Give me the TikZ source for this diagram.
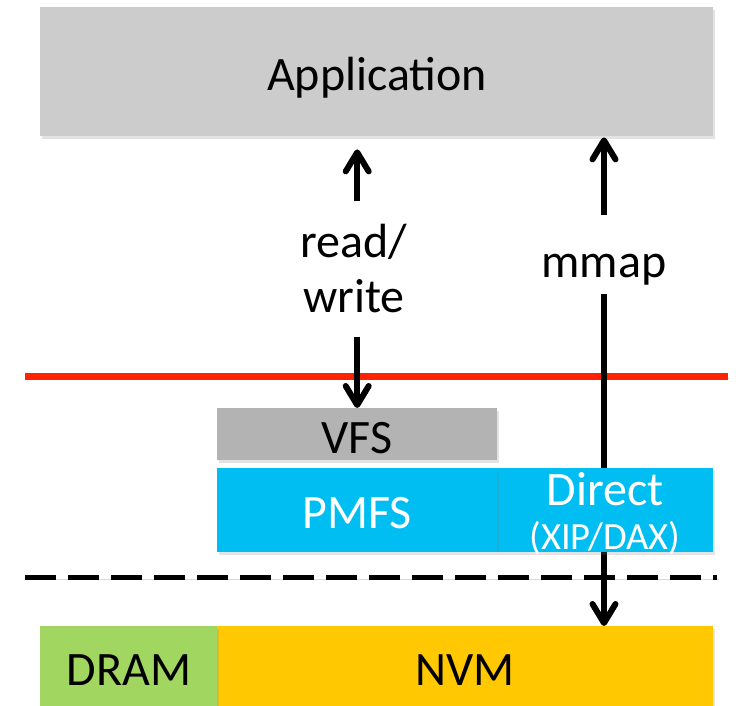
\documentclass[tikz,border=0pt]{standalone}
\usepackage{fontspec}
\setmainfont{Carlito}
\usetikzlibrary{arrows.meta,shadows}
\pgfdeclarelayer{back}
\pgfsetlayers{back,main}
\definecolor{appgray}{HTML}{CCCCCC}
\definecolor{vfsgray}{HTML}{B3B3B3}
\definecolor{pmcyan}{HTML}{00BEF2}
\definecolor{dramgreen}{HTML}{A1D661}
\definecolor{nvmgold}{HTML}{FFC800}
\definecolor{kernred}{HTML}{FF2200}
\tikzset{
  layer/.style={draw=none, inner sep=0pt, anchor=north west,
    drop shadow={shadow xshift=1.5pt, shadow yshift=-2.5pt, opacity=0.22}},
  lbl/.style={anchor=base, inner sep=0pt, font=\fontsize{48}{58}\selectfont},
  smalllbl/.style={anchor=base, inner sep=0pt, font=\fontsize{38.5}{46}\selectfont},
  flow/.style={line width=6pt, -{Straight Barb[length=19pt,width=23pt,round]}},
  lineshadow/.style={preaction={draw=black, opacity=0.15, transform canvas={xshift=1.5pt,yshift=-2.5pt}}},
}
\begin{document}
\begin{tikzpicture}[x=1pt,y=-1pt]
\useasboundingbox (0,0) rectangle (736,706);

% user space
\node[layer, fill=appgray, minimum width=673pt, minimum height=129pt] (app) at (40,7) {};
\node[lbl] (apptxt) at (377,91) {Application};

% kernel file-system stack
\node[layer, fill=vfsgray, minimum width=280pt, minimum height=52pt] (vfs) at (217,408) {};
\node[layer, fill=pmcyan, minimum width=216pt, minimum height=84pt] (direct) at (497,468) {};
\node[layer, fill=pmcyan, minimum width=280pt, minimum height=84pt] (pmfs) at (217,468) {};
\node[lbl] (vfstxt) at (357,453) {VFS};
\node[lbl, text=white] (pmfstxt) at (357,528) {PMFS};
\node[lbl, text=white] (directtxt) at (605,505) {Direct};
\node[smalllbl, text=white] (daxtxt) at (605,549) {(XIP/DAX)};

% memory devices
\node[layer, fill=nvmgold, minimum width=496pt, minimum height=80pt] (nvm) at (217,626) {};
\node[layer, fill=dramgreen, minimum width=177pt, minimum height=80pt] (dram) at (40,626) {};
\node[lbl] (dramtxt) at (129,685) {DRAM};
\node[lbl] (nvmtxt) at (465,685) {NVM};

% access-path labels
\node[lbl] (rd) at (354,257) {read/};
\node[lbl] (wr) at (354,312) {write};
\node[lbl] (mm) at (604,277) {mmap};

% user/kernel boundary and kernel/hardware boundary
\begin{pgfonlayer}{back}
\draw[kernred, line width=7pt, lineshadow] (25,376) -- (728,376);
\draw[black, line width=5pt, dash pattern=on 31pt off 12pt, lineshadow] (25,577) -- (717,577);
% mmap path runs underneath the Direct layer
\draw[flow, shorten <=9pt] (mm.south) -- (mm.south |- nvm.north);
\end{pgfonlayer}

% read/write path through VFS
\draw[flow, shorten <=22pt, shorten >=13pt] (rd.north -| vfs.north) -- (vfs.north |- app.south);
\draw[flow, shorten <=24pt] (wr.south -| vfs.north) -- (vfs.north);
% mmap path up to the application
\draw[flow, shorten <=38pt, shorten >=1pt] (mm.north) -- (mm.north |- app.south);
\end{tikzpicture}
\end{document}
